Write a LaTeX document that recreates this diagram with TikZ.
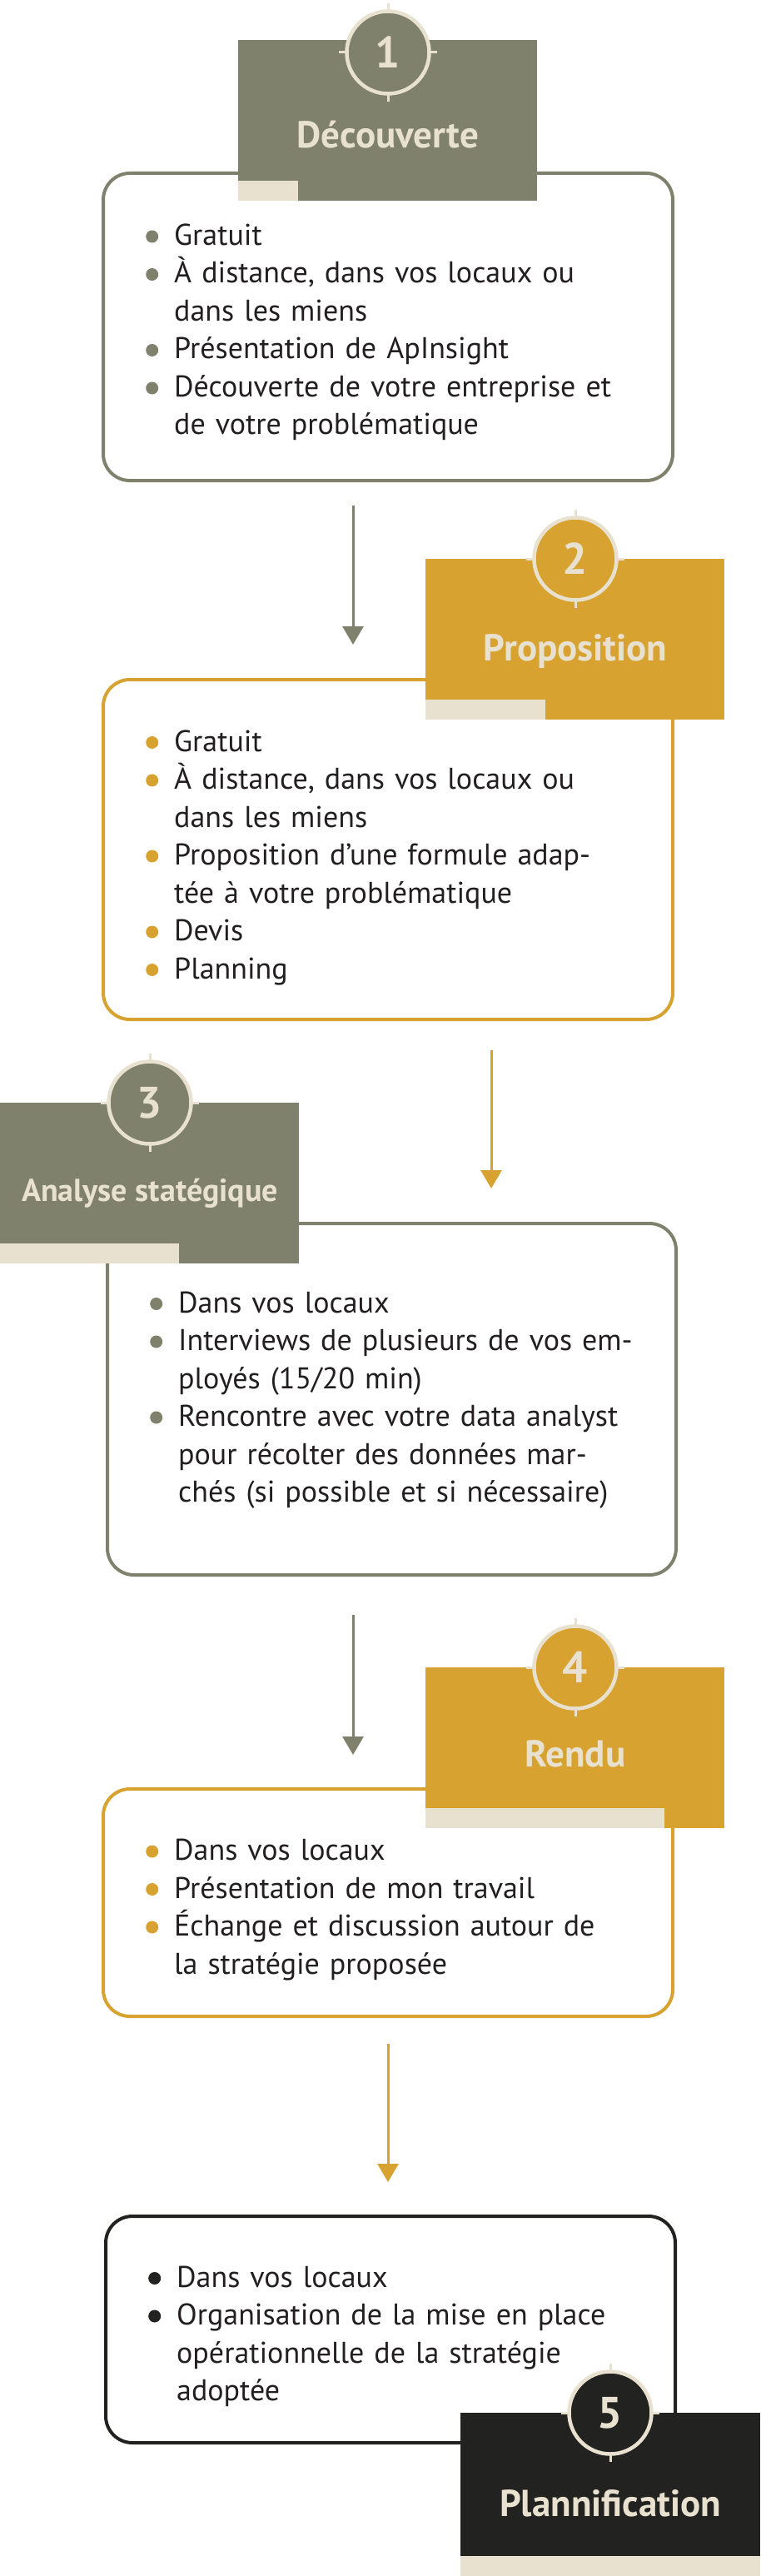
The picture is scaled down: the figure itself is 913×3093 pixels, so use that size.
\documentclass[tikz,border=0pt]{standalone}
\usepackage{fontspec}
\setmainfont{PT Sans}
\usepackage{xcolor}
\usetikzlibrary{arrows.meta,positioning,calc}
\definecolor{olive}{HTML}{80816D}
\definecolor{gold}{HTML}{D7A22F}
\definecolor{cream}{HTML}{E8E1CF}
\definecolor{ink}{HTML}{222220}
\definecolor{txt}{HTML}{231F20}
\newcommand{\puce}[2]{\noindent\hangindent=34pt\hangafter=1\makebox[34pt][l]{\tikz[baseline=0pt]\fill[#1] (7.5pt,10.5pt) circle (7.5pt);}#2\par}
\begin{document}
\begin{tikzpicture}[x=1pt, y=-1pt,
  headbox/.style={rectangle, anchor=north west, inner sep=0pt, minimum width=359pt, minimum height=193pt},
  stepnum/.style={circle, draw=cream, line width=4.5pt, minimum size=99pt, inner sep=0pt, text=cream, font=\bfseries\fontsize{53}{53}\selectfont},
  steptitle/.style={anchor=base, inner sep=0pt, text=cream, font=\bfseries\fontsize{45}{45}\selectfont},
  stepbox/.style={rectangle, rounded corners=32pt, line width=4pt, fill=white},
  bodytext/.style={anchor=base west, inner sep=0pt, text width=660pt, align=left, text=txt, font=\fontsize{36}{45.5}\selectfont},
  tick/.style={cream, line width=3pt},
  flow/.style={line width=3pt, -{Triangle[width=25pt,length=22pt]}}]
\useasboundingbox (0,0) rectangle (913,3093);
\fill[white] (0,0) rectangle (913,3093);
% boxes
\draw[stepbox, draw=olive] (124,208) rectangle (808,577);
\draw[stepbox, draw=gold] (124,816) rectangle (808,1224);
\draw[stepbox, draw=olive] (129,1469) rectangle (812,1891);
\draw[stepbox, draw=gold] (124,2148) rectangle (808,2421);
\draw[stepbox, draw=ink] (127,2661) rectangle (811,2933);
% texts
\node[bodytext] (l1) at (175,294.5) {\puce{olive}{Gratuit}
  \puce{olive}{À distance, dans vos locaux ou\newline dans les miens}
  \puce{olive}{Présentation de ApInsight}
  \puce{olive}{Découverte de votre entreprise et\newline de votre problématique}};
\node[bodytext] (l2) at (175,902) {\puce{gold}{Gratuit}
  \puce{gold}{À distance, dans vos locaux ou\newline dans les miens}
  \puce{gold}{Proposition d’une formule adap-\newline tée à votre problématique}
  \puce{gold}{Devis}
  \puce{gold}{Planning}};
\node[bodytext] (l3) at (180,1576) {\puce{olive}{Dans vos locaux}
  \puce{olive}{Interviews de plusieurs de vos em-\newline ployés (15/20 min)}
  \puce{olive}{Rencontre avec votre data analyst\newline pour récolter des données mar-\newline chés (si possible et si nécessaire)}};
\node[bodytext] (l4) at (175,2233.5) {\puce{gold}{Dans vos locaux}
  \puce{gold}{Présentation de mon travail}
  \puce{gold}{Échange et discussion autour de\newline la stratégie proposée}};
\node[bodytext] (l5) at (178,2746) {\puce{ink}{Dans vos locaux}
  \puce{ink}{Organisation de la mise en place\newline opérationnelle de la stratégie\newline adoptée}};
% arrows
\coordinate (a1s) at (424,607); \coordinate (a1e) at (424,774);
\coordinate (a2s) at (590,1261); \coordinate (a2e) at (590,1427);
\coordinate (a3s) at (424,1939); \coordinate (a3e) at (424,2107);
\coordinate (a4s) at (466,2454); \coordinate (a4e) at (466,2620);
\draw[flow, olive] (a1s) -- (a1e);
\draw[flow, gold] (a2s) -- (a2e);
\draw[flow, olive] (a3s) -- (a3e);
\draw[flow, gold] (a4s) -- (a4e);
% headers
\node[headbox, fill=olive] (h1) at (286,48) {};
\node[headbox, fill=gold] (h2) at (511,671) {};
\node[headbox, fill=olive] (h3) at (0,1324) {};
\node[headbox, fill=gold] (h4) at (511,2002) {};
\node[headbox, fill=ink, minimum width=360pt, minimum height=196pt] (h5) at (553,2897) {};
\foreach \h/\w in {h1/72, h2/144, h3/215, h4/287, h5/360}
  \fill[cream] (\h.south west) rectangle ++(\w,-24.5);
\node[stepnum, fill=olive] (c1) at (466,63) {1};
\node[stepnum, fill=gold] (c2) at (691,671) {2};
\node[stepnum, fill=olive] (c3) at (180,1324) {3};
\node[stepnum, fill=gold] (c4) at (691,2002) {4};
\node[stepnum, fill=ink] (c5) at (733,2897) {5};
\foreach \c in {c1,c2,c3,c4,c5}
  \foreach \a/\dx/\dy in {north/0/-10, south/0/10, east/10/0, west/-10/0}
    \draw[tick] ($(\c.\a)+(-0.3*\dx,-0.3*\dy)$) -- ++(\dx,\dy);
\node[steptitle] (t1) at (466,178) {Découverte};
\node[steptitle] (t2) at (691,793) {Proposition};
\node[steptitle, font=\bfseries\fontsize{38}{38}\selectfont] (t3) at (180,1442) {Analyse statégique};
\node[steptitle] (t4) at (691,2121) {Rendu};
\node[steptitle] (t5) at (733,3021) {Plannification};
\end{tikzpicture}
\end{document}
